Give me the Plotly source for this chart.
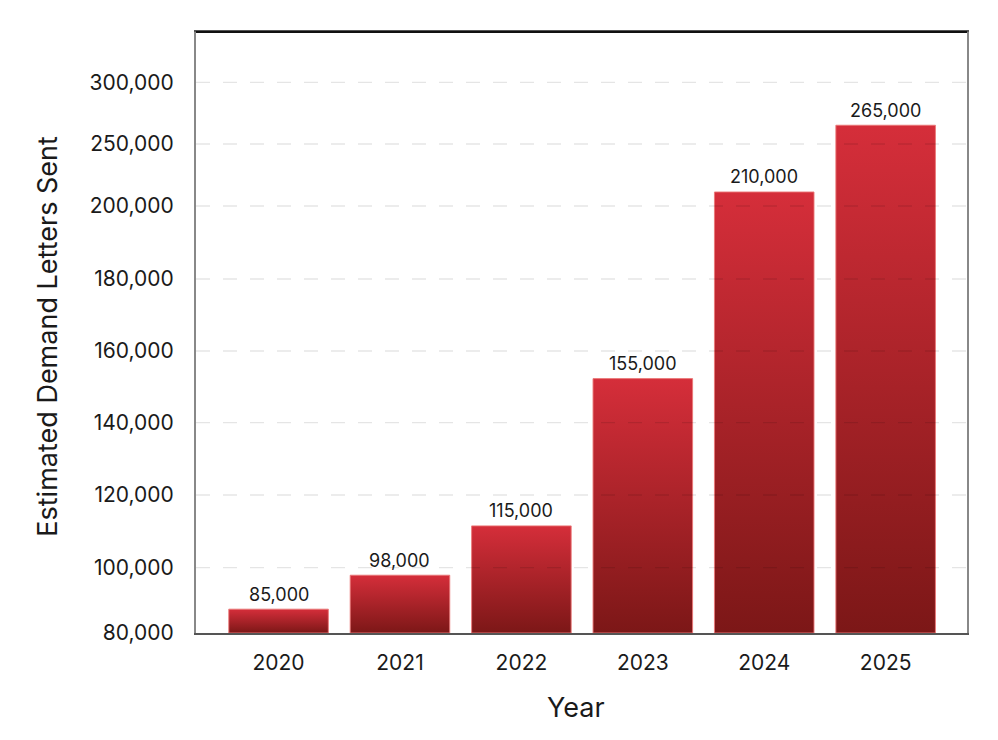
import numpy as np
import plotly.graph_objects as go

# ---- data ----
years = ["2020", "2021", "2022", "2023", "2024", "2025"]
letters_label = [85000, 98000, 115000, 155000, 210000, 265000]     # printed labels
bar_heights = [87300, 97700, 111500, 152300, 211300, 265200]       # heights read against the axis
tick_values = [80000, 100000, 120000, 140000, 160000, 180000, 200000, 250000, 300000]

# ---- segmented axis (the reference uses an uneven value axis) ----
axis_breaks = [0, 65.3, 138, 210.3, 282, 354, 427, 489, 550.7]
axis_top = 601


def to_axis(v):
    return float(np.interp(v, tick_values, axis_breaks))


FONT = "Inter, Open Sans, sans-serif"
RED_TOP = "#d52e3a"
RED_BOTTOM = "#7c1717"
bar_w = 0.82

fig = go.Figure()
for i, (yr, h) in enumerate(zip(years, bar_heights)):
    top = to_axis(h)
    x0, x1 = i - bar_w / 2, i + bar_w / 2
    fig.add_trace(go.Scatter(
        x=[x0, x1, x1, x0, x0], y=[0, 0, top, top, 0],
        mode="lines", fill="toself",
        line=dict(color="rgba(235,120,120,0.9)", width=1),
        fillgradient=dict(type="vertical",
                          colorscale=[[0, RED_BOTTOM], [1, RED_TOP]]),
        hoverinfo="skip", showlegend=False,
    ))

annotations = [
    dict(x=i, y=to_axis(h), xref="x", yref="y", text=f"{v:,}",
         showarrow=False, xanchor="center", yanchor="middle", yshift=15,
         font=dict(family=FONT, size=18, color="#1a1a1a"))
    for i, (h, v) in enumerate(zip(bar_heights, letters_label))
]

# dashed gridlines drawn above bars
for tv in tick_values[1:]:
    fig.add_shape(type="line", xref="paper", x0=0, x1=1, y0=to_axis(tv), y1=to_axis(tv),
                  yref="y", layer="above",
                  line=dict(color="rgba(0,0,0,0.10)", width=1.3, dash="14px,13px"))

fig.add_shape(type="line", xref="paper", yref="paper", x0=0, x1=1, y0=1, y1=1,
              layer="above", line=dict(color="#111", width=2))

annotations += [
    dict(text="Estimated Demand Letters Sent", xref="paper", yref="paper",
         x=(48 - 196) / 771, y=0.493, textangle=-90, showarrow=False,
         xanchor="center", yanchor="middle",
         font=dict(family=FONT, size=27, color="#1a1a1a")),
    dict(text="Year", xref="paper", yref="paper",
         x=(576 - 196) / 771, y=(633 - 708) / 601, showarrow=False,
         xanchor="center", yanchor="middle",
         font=dict(family=FONT, size=27, color="#1a1a1a")),
]

fig.update_layout(
    width=990, height=732,
    margin=dict(l=188, r=31, t=24, b=107),
    paper_bgcolor="white", plot_bgcolor="white",
    font=dict(family=FONT, color="#1a1a1a"),
    xaxis=dict(
        range=[-0.68, 5.67], tickvals=list(range(len(years))), ticktext=years,
        showgrid=False, zeroline=False, showline=True, linecolor="#555", linewidth=2,
        mirror=True, ticks="", ticklabelstandoff=10,
        tickfont=dict(family=FONT, size=21, color="#1a1a1a"),
    ),
    yaxis=dict(
        range=[0, axis_top], tickvals=axis_breaks,
        ticktext=[f"{v:,}" for v in tick_values],
        showgrid=False, zeroline=False, showline=True, linecolor="#888", linewidth=2,
        mirror=True, ticks="", ticklabelstandoff=16,
        tickfont=dict(family=FONT, size=21, color="#1a1a1a"),
    ),
    annotations=annotations,
)

fig.write_html("out.html")
